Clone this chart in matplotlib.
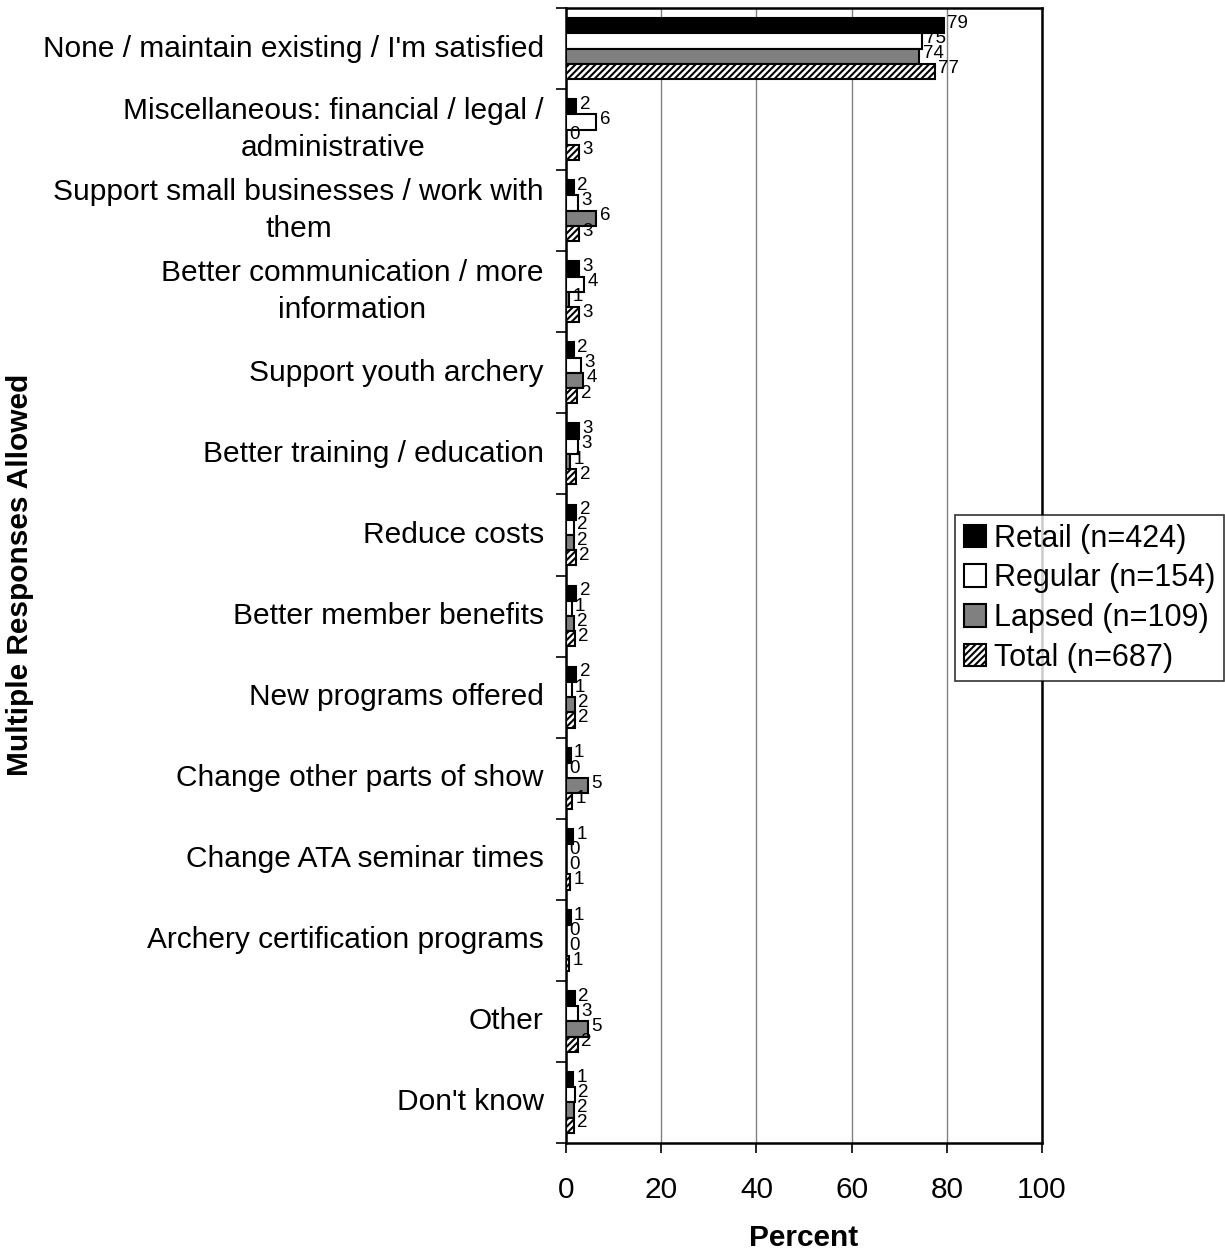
import numpy as np
import matplotlib
matplotlib.use("Agg")
import matplotlib.pyplot as plt
from matplotlib.ticker import MultipleLocator, FixedLocator

plt.rcParams['font.family'] = ['Liberation Sans', 'DejaVu Sans']
plt.rcParams['hatch.linewidth'] = 1.5

categories = [
    "None / maintain existing / I'm satisfied",
    "Miscellaneous: financial / legal /\nadministrative",
    "Support small businesses / work with\nthem",
    "Better communication / more\ninformation",
    "Support youth archery",
    "Better training / education",
    "Reduce costs",
    "Better member benefits",
    "New programs offered",
    "Change other parts of show",
    "Change ATA seminar times",
    "Archery certification programs",
    "Other",
    "Don't know",
]

retail = [79.4, 2.2, 1.7, 2.7, 1.7, 2.7, 2.2, 2.2, 2.2, 1.0, 1.5, 1.0, 1.9, 1.5]
regular = [74.7, 6.4, 2.6, 3.8, 3.1, 2.6, 1.7, 1.2, 1.2, 0.0, 0.0, 0.0, 2.6, 1.9]
lapsed = [74.2, 0.0, 6.4, 0.6, 3.6, 0.8, 1.7, 1.7, 1.9, 4.6, 0.0, 0.0, 4.6, 1.7]
total = [77.5, 2.7, 2.7, 2.7, 2.4, 2.2, 2.0, 1.8, 1.9, 1.3, 0.8, 0.6, 2.5, 1.7]

retail_lbl = [79, 2, 2, 3, 2, 3, 2, 2, 2, 1, 1, 1, 2, 1]
regular_lbl = [75, 6, 3, 4, 3, 3, 2, 1, 1, 0, 0, 0, 3, 2]
lapsed_lbl = [74, 0, 6, 1, 4, 1, 2, 2, 2, 5, 0, 0, 5, 2]
total_lbl = [77, 3, 3, 3, 2, 2, 2, 2, 2, 1, 1, 1, 2, 2]

series_names = ["Retail (n=424)", "Regular (n=154)", "Lapsed (n=109)", "Total (n=687)"]

fig = plt.figure(figsize=(12.25, 12.54), dpi=100)
ax = fig.add_axes([566 / 1225, 1 - 1143 / 1254, 476 / 1225, 1135 / 1254])

n = len(categories)
y = np.arange(n)
h = 0.1875
styles = [
    dict(color="black", edgecolor="black"),
    dict(color="white", edgecolor="black"),
    dict(color="#808080", edgecolor="black"),
    dict(color="white", edgecolor="black", hatch="/////"),
]
data = [retail, regular, lapsed, total]
labels = [retail_lbl, regular_lbl, lapsed_lbl, total_lbl]

for k in range(4):
    ypos = y - 1.5 * h + k * h
    ax.barh(ypos, data[k], height=h, linewidth=1.5, label=series_names[k], zorder=3, **styles[k])
    for yy, v, lb in zip(ypos, data[k], labels[k]):
        ax.text(v + 0.7, yy - 0.03, str(lb), va="center", ha="left", fontsize=13.5, zorder=4)

ax.set_xlim(0, 100)
ax.set_ylim(n - 0.5, -0.5)
ax.xaxis.set_major_locator(MultipleLocator(20))
ax.grid(axis="x", color="#808080", linewidth=1.0, zorder=0)
ax.set_yticks(y)
ax.set_yticklabels(categories, fontsize=21.5, linespacing=1.4, multialignment="center")
for t in ax.get_yticklabels():
    t.set_va("center")
ax.yaxis.set_minor_locator(FixedLocator(np.arange(-0.5, n, 1.0)))
ax.tick_params(axis="y", which="major", length=0, pad=16)
ax.tick_params(axis="y", which="minor", length=7, width=1.2, direction="out")
ax.tick_params(axis="x", labelsize=21.5, length=7, width=1.2, direction="out", pad=17)

for s in ax.spines.values():
    s.set_linewidth(1.8)

ax.set_xlabel("Percent", fontsize=21.5, fontweight="bold", labelpad=14)
fig.text(0.016, 1 - 575 / 1254, "Multiple Responses Allowed", rotation=90, va="center", ha="center",
         fontsize=21.5, fontweight="bold")

leg = fig.legend(loc="upper right", bbox_to_anchor=(1224 / 1225, 1 - 515 / 1254), fontsize=22,
                 frameon=True, fancybox=False, edgecolor="black", handlelength=0.75, handleheight=0.75,
                 handletextpad=0.25, borderpad=0.28, labelspacing=0.32, borderaxespad=0)
leg.get_frame().set_linewidth(1.2)

fig.savefig("out.png", dpi=100)
